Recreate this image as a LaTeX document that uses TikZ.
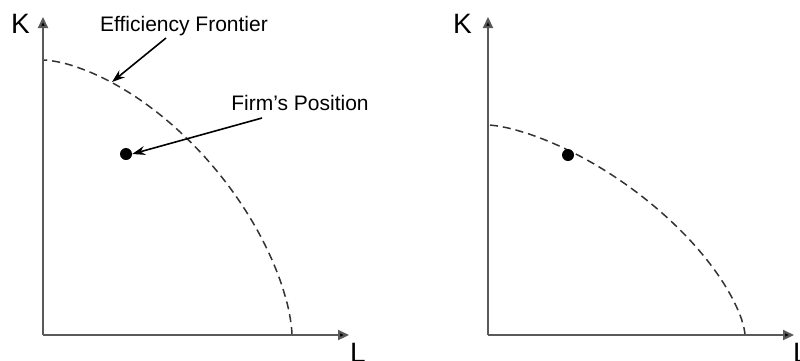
\documentclass[tikz,border=0pt]{standalone}
\usepackage{fontspec}
\setmainfont{Liberation Sans}
\usetikzlibrary{arrows.meta}
\begin{document}
\begin{tikzpicture}[x=1pt,y=-1pt,
  axis/.style={draw=black!65,line width=2.2pt,-{Triangle[length=11pt,width=10pt,fill=black]}},
  frontier/.style={draw=black!80,line width=1.5pt,dash pattern=on 8pt off 5pt},
  callout/.style={draw=black,line width=1.6pt,-{Stealth[length=13pt,width=9pt]}},
  lbl/.style={font=\fontsize{21}{24}\selectfont,inner sep=0pt},
  axlbl/.style={font=\fontsize{28}{32}\selectfont,inner sep=0pt,anchor=base west},
  firmdot/.style={circle,fill=black,inner sep=0pt,minimum size=12pt}]
\useasboundingbox (0,0) rectangle (800,360);
% left panel
\coordinate (O1) at (43,335);
\coordinate (Y1) at (43,17);
\coordinate (X1) at (349,335);
\draw[frontier] (292,335) -- plot[domain=0.01:89.99,samples=90,variable=\t]
  ({43+249*pow(abs(cos(\t)),1.25)},{335-275*pow(abs(sin(\t)),1.25)}) -- (43,60);
\draw[axis] (O1) -- (Y1);
\draw[axis] (O1) -- (X1);
\node[axlbl] (K1) at (11,33) {K};
\node[axlbl] (L1) at (350,362) {L};
\node[firmdot] (dot1) at (126,154) {};
\node[lbl] (eff) at (184,26) {Efficiency Frontier};
\node[lbl] (firm) at (300,103) {Firm’s Position};
\coordinate (effTail) at (166,38);
\coordinate (effHead) at (112,82);
\coordinate (firmTail) at (262,118);
\draw[callout] (effTail) -- (effHead);
\draw[callout] (firmTail) -- (dot1.east);
% right panel
\coordinate (O2) at (488,335);
\coordinate (Y2) at (488,17);
\coordinate (X2) at (794,335);
\draw[frontier] (745,335) -- plot[domain=0.01:89.99,samples=90,variable=\t]
  ({488+257*pow(abs(cos(\t)),1.3333)},{335-210*pow(abs(sin(\t)),1.3333)}) -- (488,125);
\draw[axis] (O2) -- (Y2);
\draw[axis] (O2) -- (X2);
\node[axlbl] (K2) at (453,33) {K};
\node[axlbl] (L2) at (793,362) {L};
\node[firmdot] (dot2) at (568,155) {};
\end{tikzpicture}
\end{document}
